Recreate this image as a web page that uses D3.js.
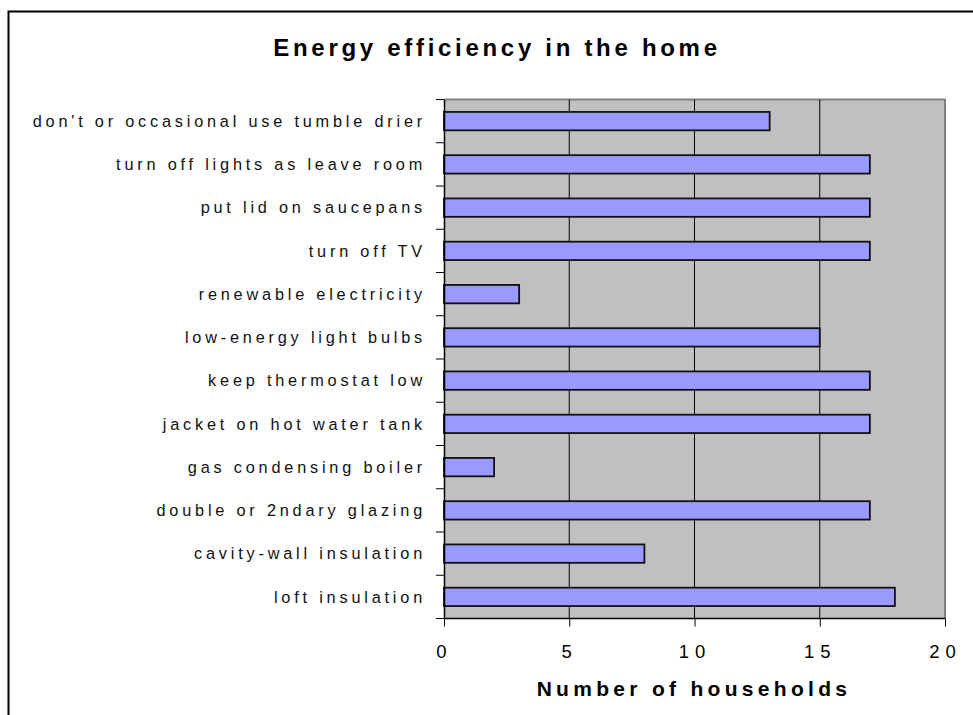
<!DOCTYPE html>
<html>
<head>
<meta charset="utf-8">
<script src="https://cdn.jsdelivr.net/npm/d3@7"></script>
<style>
  body { margin: 0; background: #fff; }
  svg { display: block; font-family: "Liberation Sans", Arial, sans-serif; }
</style>
</head>
<body>
<svg id="chart" width="973" height="715"></svg>
<script>
// Categories listed top to bottom as in the chart
const categories = [
  "don't or occasional use tumble drier",
  "turn off lights as leave room",
  "put lid on saucepans",
  "turn off TV",
  "renewable electricity",
  "low-energy light bulbs",
  "keep thermostat low",
  "jacket on hot water tank",
  "gas condensing boiler",
  "double or 2ndary glazing",
  "cavity-wall insulation",
  "loft insulation"
];
const households = [13, 17, 17, 17, 3, 15, 17, 17, 2, 17, 8, 18];
const xTicks = [0, 5, 10, 15, 20];
const chartTitle = "Energy efficiency in the home";
const xTitle = "Number of households";

const svg = d3.select("#chart");

// outer frame
svg.append("rect")
  .attr("x", 8.5).attr("y", 11.5)
  .attr("width", 1000).attr("height", 1000)
  .attr("fill", "none").attr("stroke", "#000").attr("stroke-width", 2);

const plot = { left: 444, right: 945, top: 99.5, bottom: 618.5 };

const x = d3.scaleLinear().domain([0, 20]).range([plot.left, plot.right]);
const y = d3.scaleBand().domain(categories).range([plot.top, plot.bottom]).paddingInner(0.575).paddingOuter(0.2875);
const yBand = d3.scaleBand().domain(categories).range([plot.top, plot.bottom]);

// plot background
svg.append("rect")
  .attr("x", plot.left).attr("y", plot.top)
  .attr("width", plot.right - plot.left).attr("height", plot.bottom - plot.top)
  .attr("fill", "#c0c0c0");

// top & right border in grey
svg.append("path")
  .attr("d", `M${plot.left},${plot.top}H${plot.right}V${plot.bottom}`)
  .attr("fill", "none").attr("stroke", "#808080").attr("stroke-width", 2);

// vertical gridlines
svg.append("g").selectAll("line")
  .data(xTicks.filter(d => d > 0 && d < 20))
  .join("line")
  .attr("x1", d => x(d)).attr("x2", d => x(d))
  .attr("y1", plot.top).attr("y2", plot.bottom)
  .attr("stroke", "#000").attr("stroke-width", 1);

// bars
svg.append("g").selectAll("rect")
  .data(categories)
  .join("rect")
  .attr("x", x(0))
  .attr("y", d => y(d))
  .attr("width", (d, i) => x(households[i]) - x(0))
  .attr("height", y.bandwidth())
  .attr("fill", "#9999ff")
  .attr("stroke", "#111")
  .attr("stroke-width", 1.8);

// y axis (category)
const yAxis = d3.axisLeft(yBand).tickSize(0).tickFormat("");
const yg = svg.append("g").attr("transform", `translate(${plot.left},0)`).call(yAxis);
yg.select(".domain").attr("stroke", "#000").attr("stroke-width", 1.5);
const boundaries = categories.map(c => yBand(c)).concat([plot.bottom]);
svg.append("g").selectAll("line")
  .data(boundaries)
  .join("line")
  .attr("x1", plot.left - 8).attr("x2", plot.left)
  .attr("y1", d => d).attr("y2", d => d)
  .attr("stroke", "#000").attr("stroke-width", 1);

svg.append("g").selectAll("text")
  .data(categories)
  .join("text")
  .attr("x", 426)
  .attr("y", d => yBand(d) + yBand.bandwidth() / 2)
  .attr("dy", "0.35em")
  .attr("text-anchor", "end")
  .attr("font-size", 16.3)
  .attr("letter-spacing", 3.8)
  .attr("fill", "#111")
  .text(d => d);

// x axis
const xAxis = d3.axisBottom(x).tickValues(xTicks).tickSize(8).tickPadding(18);
const xg = svg.append("g").attr("transform", `translate(0,${plot.bottom})`).call(xAxis);
xg.select(".domain").attr("stroke", "#000").attr("stroke-width", 1.5).attr("d", `M${plot.left},0H${plot.right}`);
xg.selectAll(".tick line").attr("stroke", "#000");
xg.selectAll(".tick text")
  .attr("font-family", "Liberation Sans, Arial, sans-serif")
  .attr("font-size", 18.5)
  .attr("letter-spacing", 6)
  .attr("fill", "#000")
  .attr("dy", "0.71em");

// titles
svg.append("text")
  .attr("x", 497).attr("y", 56)
  .attr("text-anchor", "middle")
  .attr("font-size", 24).attr("font-weight", "bold")
  .attr("letter-spacing", 3.7)
  .text(chartTitle);

svg.append("text")
  .attr("x", 694).attr("y", 696)
  .attr("text-anchor", "middle")
  .attr("font-size", 21).attr("font-weight", "bold")
  .attr("letter-spacing", 4.3)
  .text(xTitle);
</script>
</body>
</html>
